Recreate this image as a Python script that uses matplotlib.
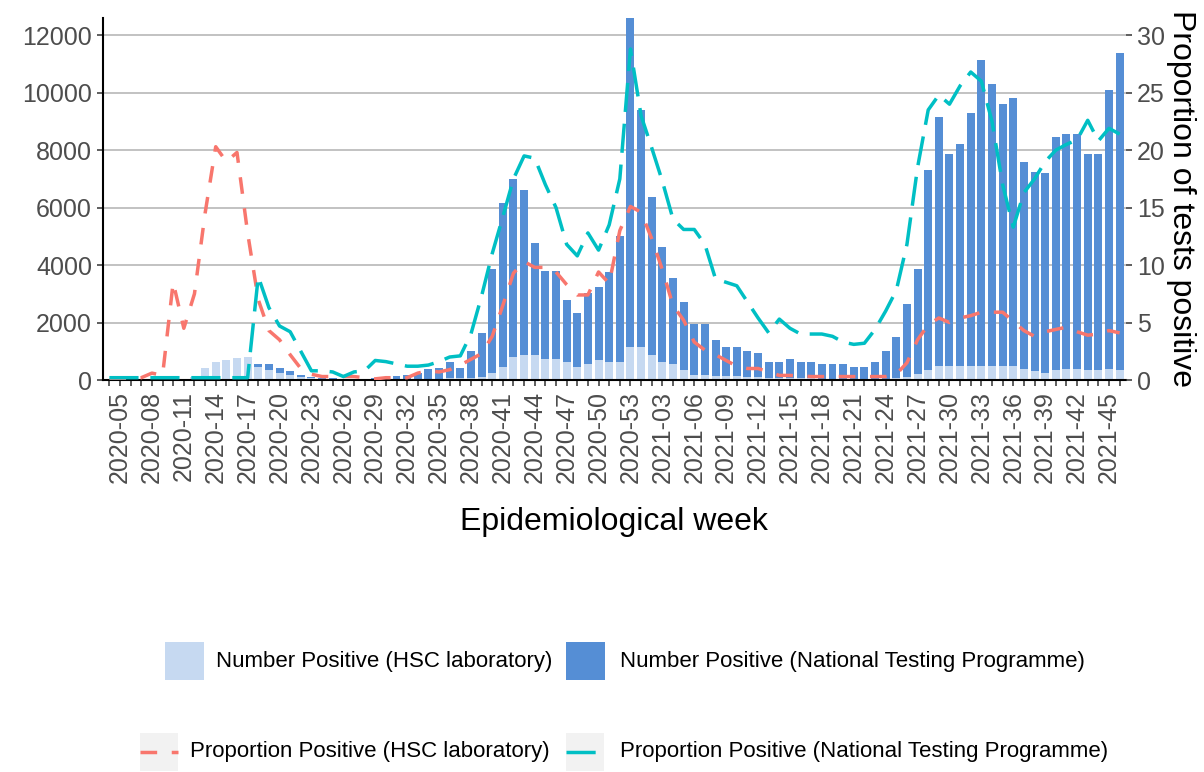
import matplotlib
matplotlib.use("Agg")
import matplotlib.pyplot as plt
from matplotlib.patches import Rectangle
from matplotlib.lines import Line2D

plt.rcParams['font.family'] = ['Liberation Sans', 'DejaVu Sans']
plt.rcParams['lines.scale_dashes'] = False

# Epidemiological weeks, 2020-04 .. 2021-46
weeks = [f"2020-{w:02d}" for w in range(4, 54)] + [f"2021-{w:02d}" for w in range(1, 47)]

# Weekly number of positive tests
hsc_count = [5, 5, 5, 10, 15, 20, 25, 40, 110, 410,
             640, 700, 780, 800, 460, 350, 230, 175, 95, 60,
             40, 30, 20, 15, 15, 20, 25, 30, 35, 40,
             45, 50, 60, 60, 80, 100, 250, 460, 790, 870,
             870, 720, 720, 640, 465, 560, 700, 640, 640, 1150,
             1160, 870, 640, 560, 350, 175, 175, 150, 140, 130,
             120, 100, 80, 80, 70, 60, 60, 50, 50, 50,
             40, 40, 40, 50, 80, 120, 200, 350, 470, 480,
             480, 480, 480, 470, 470, 470, 400, 330, 260, 350,
             400, 400, 350, 350, 400, 350]
ntp_count = [0, 0, 0, 0, 0, 0, 0, 0, 0, 0,
             0, 0, 0, 0, 100, 206, 175, 150, 80, 35,
             40, 30, 25, 25, 30, 40, 65, 100, 140, 215,
             335, 355, 580, 360, 940, 1520, 3600, 5690, 6210, 5750,
             3910, 3060, 3060, 2140, 1855, 2460, 2550, 3130, 4360, 11450,
             8240, 5510, 3980, 2980, 2350, 1775, 1775, 1240, 1020, 1030,
             900, 830, 560, 560, 650, 580, 580, 510, 510, 510,
             425, 425, 600, 970, 1400, 2520, 3650, 6950, 8690, 7380,
             7750, 8820, 10670, 9830, 9150, 9360, 7190, 6920, 6940, 8110,
             8150, 8150, 7510, 7510, 9690, 11040]

# Weekly proportion of tests positive (%)
hsc_prop = [0.0, 0.0, 0.1, 0.2, 0.6, 0.4, 8.5, 4.5, 7.5, 14.5,
            20.3, 19.0, 19.8, 12.8, 7.0, 4.3, 3.5, 2.2, 1.0, 0.5,
            0.3, 0.3, 0.3, 0.3, 0.2, 0.1, 0.2, 0.2, 0.2, 0.6,
            0.8, 0.7, 0.9, 1.3, 1.8, 2.3, 3.8, 6.5, 9.3, 10.3,
            9.8, 9.8, 9.4, 8.3, 7.4, 7.4, 9.4, 8.4, 13.0, 15.1,
            14.6, 12.3, 9.6, 6.5, 5.2, 3.3, 2.6, 2.2, 1.7, 1.2,
            1.0, 1.0, 0.7, 0.4, 0.4, 0.35, 0.3, 0.3, 0.3, 0.3,
            0.3, 0.3, 0.3, 0.3, 0.5, 1.5, 3.5, 4.8, 5.4, 5.0,
            5.4, 5.6, 5.9, 5.9, 5.9, 5.1, 4.3, 3.8, 4.2, 4.4,
            4.6, 4.2, 3.9, 4.0, 4.3, 4.1]
ntp_prop = [0.2, 0.2, 0.2, 0.2, 0.2, 0.2, 0.2, 0.2, 0.2, 0.2,
            0.2, 0.2, 0.2, 0.2, 9.0, 6.3, 4.7, 4.2, 2.5, 0.8,
            0.8, 0.7, 0.3, 0.7, 0.8, 1.7, 1.6, 1.4, 1.2, 1.2,
            1.3, 1.6, 2.0, 2.1, 4.0, 7.3, 11.0, 14.2, 17.5, 19.5,
            19.3, 17.0, 15.0, 11.8, 10.8, 12.8, 11.3, 13.5, 17.5, 28.8,
            23.0, 20.2, 17.3, 14.0, 13.1, 13.1, 11.8, 8.8, 8.5, 8.2,
            6.8, 5.4, 4.1, 5.3, 4.5, 4.0, 4.0, 4.0, 3.8, 3.3,
            3.1, 3.2, 4.4, 6.0, 7.8, 11.8, 18.5, 23.5, 24.8, 24.0,
            25.6, 26.8, 26.0, 22.5, 17.0, 13.3, 16.3, 17.5, 19.0, 20.0,
            20.5, 20.9, 22.6, 20.8, 21.9, 21.4]

LIGHT = "#C6D9F1"
DARK = "#558ED5"
SALMON = "#F8766D"
TEAL = "#00BFC4"
GREY30 = "#4D4D4D"

W, H = 1204, 772
fig = plt.figure(figsize=(W / 100, H / 100), dpi=100)


def fx(px):
    return px / W


def fy(py):
    return 1 - py / H


left, right, top, bottom = 103, 1126, 18, 380
ax = fig.add_axes([fx(left), fy(bottom), fx(right - left), (bottom - top) / H])

x = list(range(len(weeks)))
ax.bar(x, hsc_count, width=0.75, color=LIGHT, zorder=2)
ax.bar(x, ntp_count, width=0.75, bottom=hsc_count, color=DARK, zorder=2)

ax.set_xlim(-0.6, len(weeks) - 0.4)
ax.set_ylim(0, 12600)
ax.set_yticks(range(0, 12001, 2000))
ax.yaxis.grid(True, color="#BDBDBD", linewidth=1.3, zorder=0)
ax.set_axisbelow(True)

ax.set_xticks(x)
ax.set_xticklabels([w if i % 3 == 1 else "" for i, w in enumerate(weeks)],
                   rotation=90, fontsize=18, color=GREY30)
ax.tick_params(axis="x", length=4, width=1.1, color="#333333", pad=4)
ax.tick_params(axis="y", length=4, width=1.1, color="#333333", labelsize=18,
               labelcolor=GREY30, pad=4)

for side in ("top", "right"):
    ax.spines[side].set_visible(False)
for side in ("left", "bottom"):
    ax.spines[side].set_color("black")
    ax.spines[side].set_linewidth(1.5)

ax2 = ax.twinx()
ax2.set_ylim(0, 12600 / 400)
ax2.plot(x, hsc_prop, color=SALMON, linewidth=2.5, dashes=(12, 10.5), zorder=3)
ax2.plot(x, ntp_prop, color=TEAL, linewidth=2.5, dashes=(21, 8.5), zorder=3)
ax2.set_yticks(range(0, 31, 5))
ax2.tick_params(axis="y", length=4, width=1.1, color="#333333", labelsize=18,
                labelcolor=GREY30, pad=4)
for side in ("top", "right", "left", "bottom"):
    ax2.spines[side].set_visible(False)

fig.text(fx(614), fy(522), "Epidemiological week", ha="center", va="center",
         fontsize=23, color="black")
fig.text(fx(1181), fy(199), "Proportion of tests positive", ha="center", va="center",
         rotation=270, fontsize=23, color="black")

# Legends
def square(x0, y0, x1, y1, color):
    fig.patches.append(Rectangle((fx(x0), fy(y1)), fx(x1 - x0), (y1 - y0) / H,
                                 transform=fig.transFigure, facecolor=color,
                                 edgecolor="none"))


def line_key(x0, y0, x1, y1, color, dashes):
    square(x0, y0, x1, y1, "#F2F2F2")
    ym = (y0 + y1) / 2
    fig.lines.append(Line2D([fx(x0), fx(x1)], [fy(ym), fy(ym)], transform=fig.transFigure,
                            color=color, linewidth=2.5, dashes=dashes))


square(165, 642, 204, 680, LIGHT)
fig.text(fx(216), fy(662), "Number Positive (HSC laboratory)", ha="left", va="center",
         fontsize=16)
square(566, 642, 605, 680, DARK)
fig.text(fx(620), fy(662), "Number Positive (National Testing Programme)", ha="left",
         va="center", fontsize=16)

line_key(140, 733, 178, 771, SALMON, (12, 10.5))
fig.text(fx(190), fy(752), "Proportion Positive (HSC laboratory)", ha="left", va="center",
         fontsize=16)
line_key(566, 733, 604, 771, TEAL, (21, 8.5))
fig.text(fx(620), fy(752), "Proportion Positive (National Testing Programme)", ha="left",
         va="center", fontsize=16)

fig.savefig("out.png", dpi=100, facecolor="white")
